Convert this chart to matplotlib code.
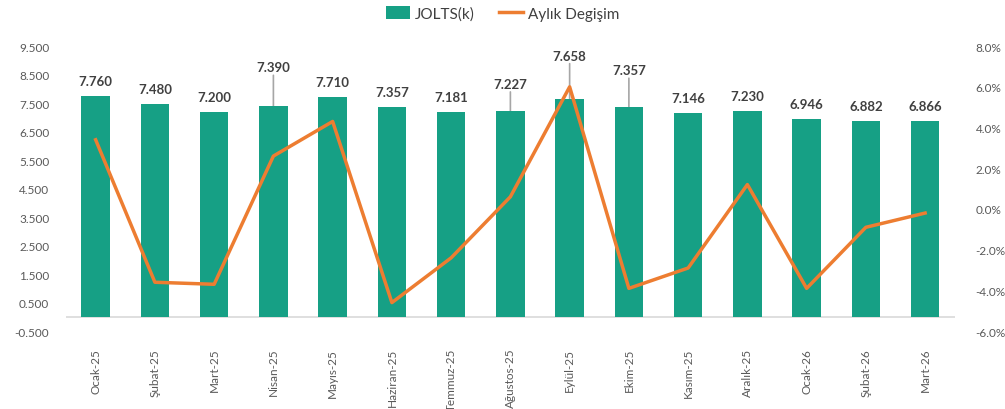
import matplotlib
matplotlib.use("Agg")
import matplotlib.pyplot as plt
import numpy as np

categories = ["Ocak-25", "Şubat-25", "Mart-25", "Nisan-25", "Mayıs-25", "Haziran-25",
              "Temmuz-25", "Ağustos-25", "Eylül-25", "Ekim-25", "Kasım-25", "Aralık-25",
              "Ocak-26", "Şubat-26", "Mart-26"]
jolts = [7.760, 7.480, 7.200, 7.390, 7.710, 7.357, 7.181, 7.227, 7.658, 7.357,
         7.146, 7.230, 6.946, 6.882, 6.866]
monthly_change = [3.4, -3.6, -3.7, 2.6, 4.3, -4.6, -2.4, 0.6, 6.0, -3.9,
                  -2.9, 1.2, -3.9, -0.9, -0.2]
left_ticks = [-0.5, 0.5, 1.5, 2.5, 3.5, 4.5, 5.5, 6.5, 7.5, 8.5, 9.5]
right_ticks = [-6, -4, -2, 0, 2, 4, 6, 8]
label_offsets_px = [15, 15, 15, 39, 15, 15, 15, 27, 43, 37, 15, 15, 15, 15, 15]

plt.rcParams['font.family'] = ['Lato', 'DejaVu Sans']

bar_color = "#16A085"
line_color = "#ED7D31"
txt_gray = "#595959"

fig = plt.figure(figsize=(10.05, 4.10), dpi=100)
ax = fig.add_axes([0.0657, 0.190, 0.8843, 0.695])
ax2 = ax.twinx()

x = np.arange(len(categories))
bars = ax.bar(x, jolts, width=0.48, color=bar_color, label="JOLTS(k)", zorder=2)
ax.set_xlim(-0.5, len(categories) - 0.5)
ax.set_ylim(-0.5, 9.5)
ax.set_yticks(left_ticks)
ax.set_yticklabels([f"{t:.3f}" for t in left_ticks])
ax.axhline(0, color="#D9D9D9", lw=1.2, zorder=1)

ax.set_xticks(x)
ax.set_xticklabels(categories, rotation=90)
ax.tick_params(axis='x', length=0, pad=12, labelsize=8.5, labelcolor=txt_gray)
ax.tick_params(axis='y', length=0, pad=12, labelsize=8.5, labelcolor=txt_gray)
for s in ax.spines.values():
    s.set_visible(False)

for xi, v, off in zip(x, jolts, label_offsets_px):
    ax.annotate(f"{v:.3f}", xy=(xi, v), xytext=(0, off), textcoords='offset pixels',
                ha='center', va='center', fontsize=9.5, color="#404040", fontweight='bold',
                zorder=5)
    if off > 20:
        ax.annotate("", xy=(xi, v), xytext=(0, off - 8), textcoords='offset pixels',
                    arrowprops=dict(arrowstyle='-', color="#A6A6A6", lw=1.2,
                                    shrinkA=0, shrinkB=0), zorder=1)

ax2.plot(x, monthly_change, color=line_color, lw=2.5, label="Aylık Degişim", zorder=3)
ax2.set_ylim(-6, 8)
ax2.set_yticks(right_ticks)
ax2.set_yticklabels([f"{t:.1f}%" for t in right_ticks])
ax2.tick_params(axis='y', length=0, pad=15, labelsize=8.5, labelcolor=txt_gray)
for s in ax2.spines.values():
    s.set_visible(False)

h1, l1 = ax.get_legend_handles_labels()
h2, l2 = ax2.get_legend_handles_labels()
fig.legend(h1 + h2, l1 + l2, loc='center', bbox_to_anchor=(0.5, 0.965), ncol=2,
           frameon=False, fontsize=11, handlelength=1.6, handleheight=0.9,
           columnspacing=1.6, handletextpad=0.3, labelcolor="#404040")

fig.savefig("out.png", dpi=100)
